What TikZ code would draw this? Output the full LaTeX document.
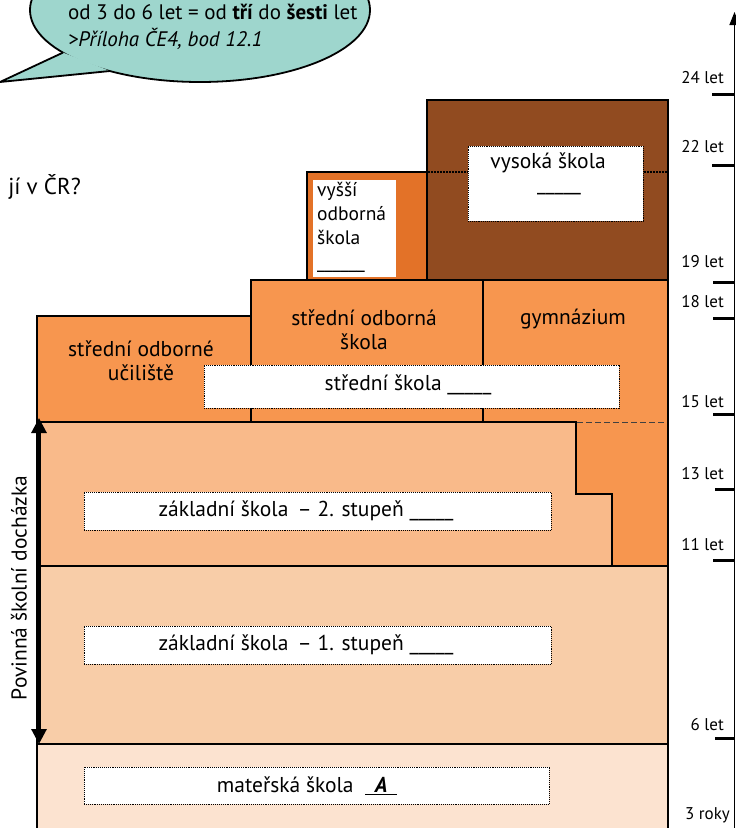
\documentclass[tikz,border=0pt]{standalone}
\usepackage{fontspec}
\setmainfont{PT Sans}
\usetikzlibrary{arrows.meta}
\definecolor{cMS}{RGB}{252,227,208}
\definecolor{cZSa}{RGB}{248,205,168}
\definecolor{cZSb}{RGB}{249,186,138}
\definecolor{cOr}{RGB}{247,150,79}
\definecolor{cVOS}{RGB}{227,114,40}
\definecolor{cBr}{RGB}{145,75,32}
\definecolor{cBub}{RGB}{158,214,205}
\begin{document}
\begin{tikzpicture}[x=1pt,y=-1pt,
  edge/.style={draw=black,line width=2pt,line join=miter,line cap=rect},
  wbox/.style={draw=black,densely dotted,line width=0.9pt,fill=white,inner sep=0pt},
  txt/.style={font=\fontsize{21.5}{24}\selectfont,inner sep=0pt},
  scl/.style={font=\fontsize{17}{20}\selectfont,inner sep=0pt,anchor=east},
  tk/.style={line width=3pt}]
\useasboundingbox (0,0) rectangle (736,828);
\begin{scope}
\clip (0,0) rectangle (736,828);
% speech bubble
\fill[cBub] (200,10) ellipse [x radius=170, y radius=72];
\fill[cBub] (63,52.6) -- (0,82) -- (110,71) -- cycle;
\draw[line width=1.8pt] (200,10) ellipse [x radius=170, y radius=72];
\fill[cBub] (63,52.6) -- (0,82) -- (110,71) -- cycle;
\draw[line width=1.8pt,line join=round] (63,52.6) -- (0,82) -- (110,71);
\node[txt,font=\fontsize{21}{24}\selectfont,anchor=base west] (b1) at (68,19) {od 3 do 6 let = od \textbf{tří} do \textbf{šesti} let};
\node[txt,font=\fontsize{21}{24}\selectfont,anchor=base west] (b2) at (68,46) {\textit{>Příloha ČE4, bod 12.1}};
\node[font=\fontsize{23}{26}\selectfont,inner sep=0pt,anchor=east] (q) at (81,187) {jí v ČR?};

% fills
\fill[cMS] (37,744) rectangle (668,832);
\fill[cZSa] (37,566) rectangle (668,744);
\fill[cZSb] (37,422) -- (576,422) -- (576,494) -- (612,494) -- (612,566) -- (37,566) -- cycle;
\fill[cOr] (576,422) -- (668,422) -- (668,566) -- (612,566) -- (612,494) -- (576,494) -- cycle;
\fill[cOr] (37,316) rectangle (251,422);
\fill[cOr] (251,280) rectangle (668,422);
\fill[cVOS] (307,172) rectangle (427,280);
\fill[cBr] (427,100) rectangle (668,280);

% dashed / dotted inner lines
\draw[black!75,line width=1pt,dash pattern=on 6pt off 3pt] (577,422) -- (667,422);
\draw[black,line width=1.2pt,dash pattern=on 1.5pt off 1.5pt] (428,172) -- (667,172);

% borders
\draw[edge] (37,832) -- (37,316) -- (251,316);
\draw[edge] (251,422) -- (251,280) -- (668,280);
\draw[edge] (483,280) -- (483,422);
\draw[edge] (37,422) -- (576,422) -- (576,494) -- (612,494) -- (612,566);
\draw[edge] (37,566) -- (668,566);
\draw[edge] (37,744) -- (668,744);
\draw[edge] (668,832) -- (668,100) -- (427,100) -- (427,280);
\draw[edge] (427,172) -- (307,172) -- (307,280);

% white label boxes
\node[fill=white,minimum width=83pt,minimum height=97pt,inner sep=0pt] (vosbox) at (354.5,228.5) {};
\node[txt,font=\fontsize{19.5}{24}\selectfont,align=left,anchor=north west] (vost) at (317,182) {vyšší\\odborná\\škola\\\_\_\_\_\_\_};
\node[wbox,minimum width=175pt,minimum height=75pt] (vsbox) at (555.5,183.5) {};
\node[txt] (vst) at (548,163) {vysoká škola};
\node[txt] (vsu) at (559,193) {\_\_\_\_\_};
\node[txt,align=center] (sou) at (141,361) {střední odborné\\učiliště};
\node[txt,align=center] (sos) at (364,330) {střední odborná\\škola};
\node[txt] (gym) at (573,319) {gymnázium};
\node[wbox,minimum width=415pt,minimum height=43pt] (ssbox) at (411.5,386.5) {};
\node[txt] (sst) at (408,385) {střední škola \_\_\_\_\_};
\node[wbox,minimum width=467pt,minimum height=38pt] (zsbbox) at (317.5,511) {};
\node[txt] (zsbt) at (306,511) {základní škola \,– 2. stupeň \_\_\_\_\_};
\node[wbox,minimum width=467pt,minimum height=38pt] (zsabox) at (317.5,645) {};
\node[txt] (zsat) at (306,645) {základní škola \,– 1. stupeň \_\_\_\_\_};
\node[wbox,minimum width=465pt,minimum height=37pt] (msbox) at (316.5,785.5) {};
\node[txt] (mst) at (307,786) {mateřská škola \ \underline{\makebox[32pt]{\textbf{\textit{A}}}}};

% compulsory attendance arrow
\coordinate (pa) at (39,418);
\coordinate (pb) at (39,744);
\draw[line width=3pt,{Triangle[length=15pt,width=15pt]}-{Triangle[length=15pt,width=15pt]}] (pa) -- (pb);
\node[txt,rotate=90] (pov) at (19,588) {Povinná školní docházka};

% age axis
\coordinate (axb) at (734.5,832);
\coordinate (axt) at (734.5,12);
\draw[line width=1.5pt,-{Triangle[length=13pt,width=10pt]}] (axb) -- (axt);
\foreach \y/\lab/\c/\xs in {94/24 let/78/712,165/22 let/147/712,282/19 let/262/713,318/18 let/302/713,414/15 let/402/713,489/13 let/474/715,560/11 let/545/713,738/6 let/725/715}{
  \draw[tk] (\xs,\y) -- (735,\y);
  \node[scl] at (724,\c) {\lab};
}
\node[scl] (r3) at (730,815) {3 roky};
\end{scope}
\end{tikzpicture}
\end{document}
